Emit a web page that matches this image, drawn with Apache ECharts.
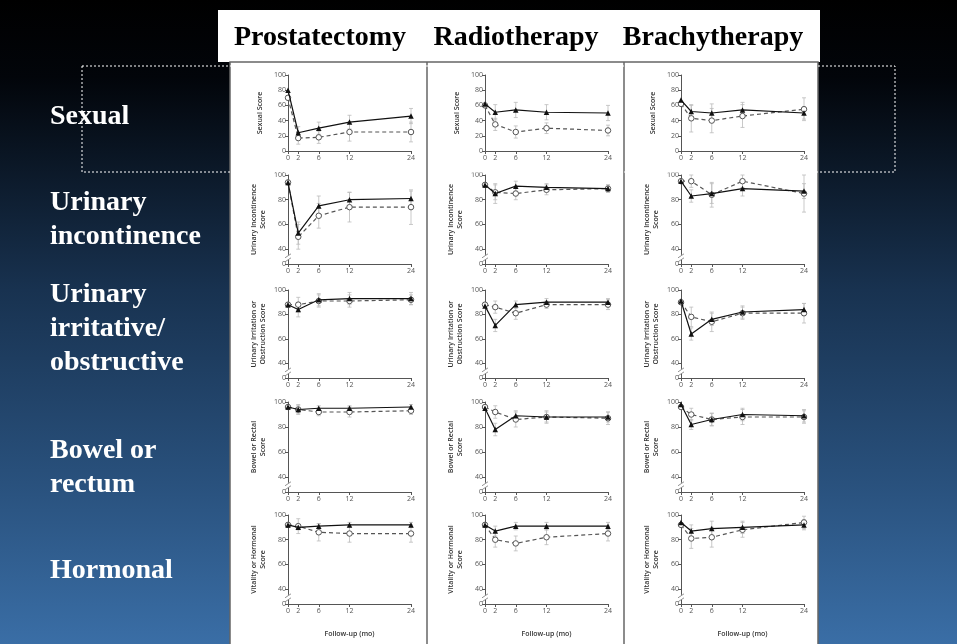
<!DOCTYPE html>
<html>
<head>
<meta charset="utf-8">
<script src="https://cdn.jsdelivr.net/npm/echarts@6/dist/echarts.min.js"></script>
<style>
  html, body { margin: 0; padding: 0; }
  #chart { width: 957px; height: 644px; }
</style>
</head>
<body>
<div id="chart"></div>
<script>
// follow-up months and axis ticks
const months = [0, 2, 6, 12, 24];
const sexualTicks = [0, 20, 40, 60, 80, 100];
const brokenTicks = [40, 60, 80, 100];
const brokenFloor = 28; // shown as "0" below the axis break

const treatments = ["Prostatectomy", "Radiotherapy", "Brachytherapy"];
const rowLabels = ["Sexual", "Urinary\nincontinence", "Urinary\nirritative/\nobstructive", "Bowel or\nrectum", "Hormonal"];
const scoreNames = ["Sexual Score", "Urinary Incontinence\nScore", "Urinary Irritation or\nObstruction Score", "Bowel or Rectal\nScore", "Vitality or Hormonal\nScore"];

// A = solid line with filled triangles, B = dashed line with open circles
const prostSexualA = [80, 24, 30, 38, 46];
const prostSexualB = [70, 17, 18, 25, 25];
const radioSexualA = [62, 51, 54, 51, 50];
const radioSexualB = [60, 35, 25, 30, 27];
const brachySexualA = [67, 52, 50, 54, 50];
const brachySexualB = [62, 43, 40, 46, 55];

const prostIncontA = [94, 53, 75, 80, 81];
const prostIncontB = [94, 50, 67, 74, 74];
const radioIncontA = [92, 85, 91, 90, 89];
const radioIncontB = [92, 86, 85, 88, 89];
const brachyIncontA = [95, 83, 85, 89, 87];
const brachyIncontB = [95, 95, 84, 95, 85];

const prostIrritA = [88, 84, 92, 93, 93];
const prostIrritB = [88, 88, 91, 91, 92];
const radioIrritA = [87, 71, 88, 90, 90];
const radioIrritB = [88, 86, 81, 88, 88];
const brachyIrritA = [91, 64, 76, 82, 84];
const brachyIrritB = [90, 78, 74, 81, 81];

const prostBowelA = [96, 94, 95, 95, 96];
const prostBowelB = [96, 94, 92, 92, 93];
const radioBowelA = [95, 78, 89, 88, 88];
const radioBowelB = [96, 92, 86, 88, 87];
const brachyBowelA = [98, 82, 86, 90, 89];
const brachyBowelB = [96, 90, 86, 88, 88];

const prostHormA = [92, 90, 91, 92, 92];
const prostHormB = [92, 91, 86, 85, 85];
const radioHormA = [92, 87, 91, 91, 91];
const radioHormB = [92, 80, 77, 82, 85];
const brachyHormA = [94, 87, 89, 90, 92];
const brachyHormB = [92, 81, 82, 88, 94];

// error bar half lengths
const prostSexualErrA = [0, 8, 8, 9, 10];
const prostSexualErrB = [0, 8, 8, 12, 13];
const radioSexualErrA = [0, 10, 10, 10, 10];
const radioSexualErrB = [0, 8, 8, 7, 7];
const brachySexualErrA = [0, 8, 12, 10, 8];
const brachySexualErrB = [0, 18, 16, 15, 15];
const prostIncontErrA = [0, 9, 8, 6, 6];
const prostIncontErrB = [0, 10, 10, 12, 14];
const radioIncontErrA = [0, 8, 4, 3, 3];
const radioIncontErrB = [0, 6, 5, 4, 3];
const brachyIncontErrA = [0, 5, 8, 6, 6];
const brachyIncontErrB = [0, 5, 10, 5, 15];
const prostIrritErrA = [0, 6, 5, 5, 5];
const prostIrritErrB = [0, 6, 5, 5, 4];
const radioIrritErrA = [0, 5, 3, 3, 3];
const radioIrritErrB = [0, 5, 5, 3, 4];
const brachyIrritErrA = [0, 5, 5, 5, 5];
const brachyIrritErrB = [0, 8, 8, 5, 8];
const prostBowelErrA = [0, 3, 2, 2, 2];
const prostBowelErrB = [0, 4, 3, 4, 3];
const radioBowelErrA = [0, 5, 4, 4, 4];
const radioBowelErrB = [0, 5, 6, 5, 5];
const brachyBowelErrA = [0, 4, 5, 5, 5];
const brachyBowelErrB = [0, 5, 5, 6, 5];
const prostHormErrA = [0, 2, 2, 2, 2];
const prostHormErrB = [0, 6, 7, 7, 7];
const radioHormErrA = [0, 4, 3, 3, 3];
const radioHormErrB = [0, 6, 6, 6, 6];
const brachyHormErrA = [0, 5, 6, 5, 4];
const brachyHormErrB = [0, 8, 8, 6, 5];

const panels = [
  [prostSexualA, prostSexualB, prostSexualErrA, prostSexualErrB],
  [radioSexualA, radioSexualB, radioSexualErrA, radioSexualErrB],
  [brachySexualA, brachySexualB, brachySexualErrA, brachySexualErrB],
  [prostIncontA, prostIncontB, prostIncontErrA, prostIncontErrB],
  [radioIncontA, radioIncontB, radioIncontErrA, radioIncontErrB],
  [brachyIncontA, brachyIncontB, brachyIncontErrA, brachyIncontErrB],
  [prostIrritA, prostIrritB, prostIrritErrA, prostIrritErrB],
  [radioIrritA, radioIrritB, radioIrritErrA, radioIrritErrB],
  [brachyIrritA, brachyIrritB, brachyIrritErrA, brachyIrritErrB],
  [prostBowelA, prostBowelB, prostBowelErrA, prostBowelErrB],
  [radioBowelA, radioBowelB, radioBowelErrA, radioBowelErrB],
  [brachyBowelA, brachyBowelB, brachyBowelErrA, brachyBowelErrB],
  [prostHormA, prostHormB, prostHormErrA, prostHormErrB],
  [radioHormA, radioHormB, radioHormErrA, radioHormErrB],
  [brachyHormA, brachyHormB, brachyHormErrA, brachyHormErrB],
];

const colLeft = [288, 485, 681];
const plotW = 123;
const rowTop = [75, 175, 290, 402, 515];
const rowH = [76, 89, 88, 90, 89];
const axisGray = "#555";
const smallFont = { fontFamily: "Open Sans", fontSize: 7, color: "#555" };

function renderErr(params, api) {
  const x = api.value(0), y = api.value(1), e = api.value(2);
  if (!e) return;
  const top = api.coord([x, Math.min(100, y + e)]);
  const bot = api.coord([x, y - e]);
  const style = { stroke: "#bbb", lineWidth: 0.8, fill: null };
  return {
    type: "group",
    children: [
      { type: "line", shape: { x1: top[0], y1: top[1], x2: bot[0], y2: bot[1] }, style },
      { type: "line", shape: { x1: top[0] - 2, y1: top[1], x2: top[0] + 2, y2: top[1] }, style },
      { type: "line", shape: { x1: bot[0] - 2, y1: bot[1], x2: bot[0] + 2, y2: bot[1] }, style },
    ],
  };
}

const grid = [], xAxis = [], yAxis = [], series = [];
panels.forEach((p, i) => {
  const row = Math.floor(i / 3), col = i % 3;
  const broken = row > 0;
  grid.push({ left: colLeft[col], top: rowTop[row], width: plotW, height: rowH[row] });
  xAxis.push({
    gridIndex: i,
    type: "value",
    min: 0,
    max: 24,
    name: row === 4 ? "Follow-up (mo)" : "",
    nameLocation: "middle",
    nameGap: 26,
    nameTextStyle: { fontFamily: "Open Sans", fontSize: 7, fontWeight: 600, color: "#333" },
    axisLine: { show: true, onZero: false, lineStyle: { color: axisGray, width: 1 } },
    axisTick: { show: true, customValues: months, length: 3, lineStyle: { color: axisGray } },
    axisLabel: Object.assign({ customValues: months, margin: 3 }, smallFont),
    splitLine: { show: false },
  });
  const yTicks = broken ? [brokenFloor].concat(brokenTicks) : sexualTicks;
  yAxis.push({
    gridIndex: i,
    type: "value",
    min: broken ? brokenFloor : 0,
    max: 100,
    name: scoreNames[row],
    nameLocation: "middle",
    nameGap: broken ? 21 : 24,
    nameTextStyle: { fontFamily: "Open Sans", fontSize: 7, fontWeight: 600, color: "#333", lineHeight: 9 },
    axisLine: { show: true, onZero: false, lineStyle: { color: axisGray, width: 1 } },
    axisTick: { show: true, customValues: yTicks, length: 3, lineStyle: { color: axisGray } },
    axisLabel: Object.assign({
      customValues: yTicks,
      margin: 2,
      formatter: (v) => (v === brokenFloor ? "0" : String(v)),
    }, smallFont),
    splitLine: { show: false },
  });
  const [a, b, ea, eb] = p;
  series.push({
    type: "custom", xAxisIndex: i, yAxisIndex: i, renderItem: renderErr, z: 1,
    encode: { x: 0, y: 1 }, data: months.map((m, k) => [m, b[k], eb[k]]),
  });
  series.push({
    type: "custom", xAxisIndex: i, yAxisIndex: i, renderItem: renderErr, z: 1,
    encode: { x: 0, y: 1 }, data: months.map((m, k) => [m, a[k], ea[k]]),
  });
  series.push({
    type: "line", xAxisIndex: i, yAxisIndex: i, z: 3,
    data: months.map((m, k) => [m, b[k]]),
    symbol: "circle", symbolSize: 5.5,
    itemStyle: { color: "#fff", borderColor: "#555", borderWidth: 1 },
    lineStyle: { color: "#555", width: 1.2, type: [4, 3] },
  });
  series.push({
    type: "line", xAxisIndex: i, yAxisIndex: i, z: 4,
    data: months.map((m, k) => [m, a[k]]),
    symbol: "triangle", symbolSize: 5.5,
    itemStyle: { color: "#111" },
    lineStyle: { color: "#111", width: 1.2 },
  });
});

const graphics = [
  {
    type: "rect", z: -2, shape: { x: 0, y: 0, width: 957, height: 644 },
    style: {
      fill: new echarts.graphic.LinearGradient(0, 0, 0, 1, [
        { offset: 0, color: "#000000" },
        { offset: 0.12, color: "#02050a" },
        { offset: 0.45, color: "#183250" },
        { offset: 0.75, color: "#29517d" },
        { offset: 1, color: "#3a6ea6" },
      ]),
    },
  },
  { type: "rect", z: -1, shape: { x: 218, y: 10, width: 602, height: 52 }, style: { fill: "#fff" } },
  { type: "rect", z: -1, shape: { x: 230, y: 62, width: 588, height: 582 }, style: { fill: "#fff" } },
  { type: "polyline", z: 5, shape: { points: [[230, 644], [230, 62], [818, 62], [818, 644]] }, style: { stroke: "#666", lineWidth: 1.5, fill: null } },
  { type: "line", z: 5, shape: { x1: 427, y1: 62, x2: 427, y2: 644 }, style: { stroke: "#666", lineWidth: 1.5 } },
  { type: "line", z: 5, shape: { x1: 624, y1: 62, x2: 624, y2: 644 }, style: { stroke: "#666", lineWidth: 1.5 } },
  { type: "rect", z: 6, shape: { x: 82, y: 66, width: 813, height: 106 }, style: { fill: null, stroke: "#fff", lineWidth: 1, lineDash: [2, 2] } },
];
const titleX = [320, 516, 713];
treatments.forEach((t, c) => {
  graphics.push({
    type: "text", z: 10, x: titleX[c], y: 38,
    style: { text: t, fill: "#000", font: 'bold 28px "Liberation Serif"', textAlign: "center", textVerticalAlign: "middle" },
  });
});
const labelY = [117, 220, 329, 468, 571];
rowLabels.forEach((t, r) => {
  graphics.push({
    type: "text", z: 10, x: 50, y: labelY[r],
    style: { text: t, fill: "#fff", font: 'bold 28px "Liberation Serif"', lineHeight: 34, textAlign: "left", textVerticalAlign: "middle" },
  });
});

const chart = echarts.init(document.getElementById("chart"));
chart.setOption({ animation: false, grid, xAxis, yAxis, series, graphic: graphics });

// "//" axis-break marks on the y axes of rows 2-5
panels.forEach((p, i) => {
  if (i < 3) return;
  const pt = chart.convertToPixel({ xAxisIndex: i, yAxisIndex: i }, [0, brokenFloor + 5]);
  graphics.push({ type: "rect", z: 7, shape: { x: pt[0] - 2, y: pt[1] - 3, width: 4, height: 5 }, style: { fill: "#fff" } });
  [-2, 2].forEach((d) => {
    graphics.push({
      type: "line", z: 8,
      shape: { x1: pt[0] - 3, y1: pt[1] + d + 2, x2: pt[0] + 3, y2: pt[1] + d - 2 },
      style: { stroke: "#777", lineWidth: 0.8 },
    });
  });
});
chart.setOption({ graphic: graphics });
</script>
</body>
</html>
